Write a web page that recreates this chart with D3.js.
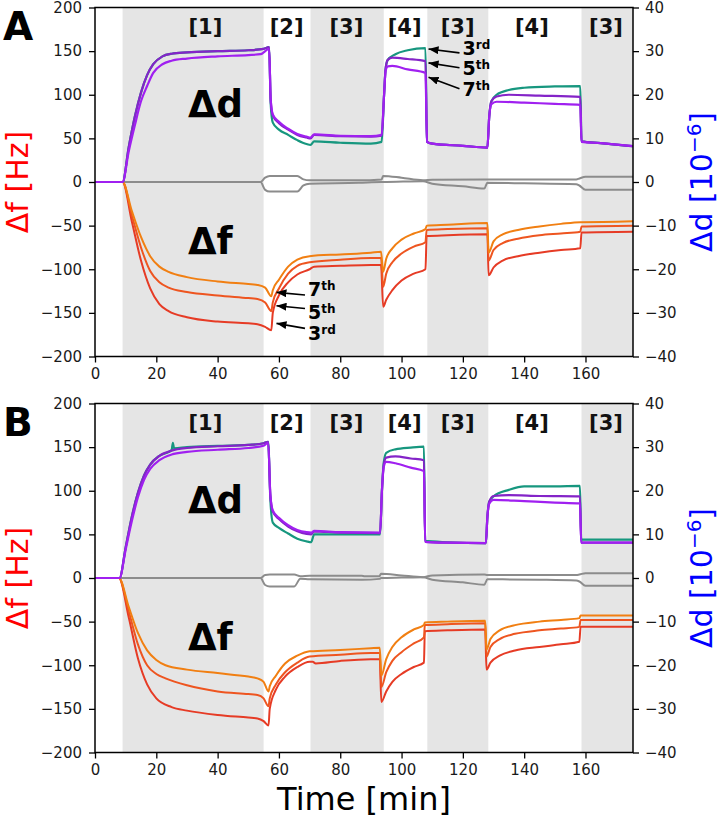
<!DOCTYPE html>
<html>
<head>
<meta charset="utf-8">
<script src="https://cdn.jsdelivr.net/npm/d3@7"></script>
<style>
    body { margin: 0; background: #fff; }
    svg { display: block; font-family: "DejaVu Sans", sans-serif; }
</style>
</head>
<body>
<script>
// ---- axes / phases ----
const timeTicks = [0, 20, 40, 60, 80, 100, 120, 140, 160];
const hzTicks = [-200, -150, -100, -50, 0, 50, 100, 150, 200];
const ddTicks = [-40, -30, -20, -10, 0, 10, 20, 30, 40];
const shadedBands = [[9, 55], [70.3, 94.2], [108.4, 128.3], [158.7, 175.5]];
const stepLabels = ["[1]", "[2]", "[3]", "[4]", "[3]", "[4]", "[3]"];
const stepCenters = [36, 62.5, 82, 101, 118.3, 142.5, 166.7];
const overtones = ["3", "5", "7"];
const overtoneSup = ["rd", "th", "th"];

// ---- panel A: dissipation [1e-6] (t, value) ----
const dA3 = [[0,0],[9,0],[11,8],[13,15],[15,20.5],[17,24.5],[19,27],[22,28.8],[25,29.4],[30,29.7],[40,30],[50,30.2],[55,30.5],[56.8,30.9],[57.3,18],[58,13.6],[60,12],[63,10.8],[66,9.6],[69,8.7],[70.3,8.5],[71.5,9.3],[80,9],[90,8.8],[93.5,9.2],[94.3,20],[94.8,26],[95.5,28],[98,29.3],[102,30.2],[107.8,30.7],[108.3,9.2],[110,8.8],[120,8.3],[128,7.9],[128.6,15],[129.3,18.5],[131,20],[135,21.1],[140,21.6],[150,21.9],[158.3,22],[158.7,9.3],[165,8.9],[175.5,8.2]];
const dA5 = [[0,0],[9,0],[11,8],[13,15],[15,20.5],[17,24.5],[19,27],[22,28.8],[25,29.4],[30,29.7],[40,30],[50,30.2],[55,30.5],[56.8,30.9],[57.3,19],[58,15.2],[60,13.5],[63,12],[66,10.8],[69,10.2],[70.3,10],[71.5,10.8],[80,10.5],[90,10.4],[93.5,10.6],[94.3,20],[94.8,26],[95.5,28],[97,28.5],[102,28.2],[107.8,27.7],[108.3,9.2],[110,8.8],[120,8.3],[128,7.9],[128.6,15],[129.3,18.5],[131,19.6],[135,20],[145,19.8],[158.3,19.5],[158.7,9.3],[165,8.9],[175.5,8.2]];
const dA7 = [[0,0],[9,0],[11,7],[13,13],[15,18.5],[17,22],[19,25],[22,27],[25,27.8],[30,28.3],[40,28.8],[50,29.1],[54,29.3],[56.8,30.5],[57.3,19],[58,15.5],[60,13.8],[63,12.2],[66,11],[69,10.4],[70.3,10.2],[71.5,10.9],[80,10.6],[90,10.5],[93.5,10.8],[94.3,20],[94.8,25.5],[95.5,26.5],[97,26.6],[102,25.8],[107.8,25],[108.3,9.2],[110,8.8],[120,8.3],[128,7.9],[128.6,15],[129.3,17.8],[131,18.4],[140,18.2],[150,17.9],[158.3,17.7],[158.7,9.2],[165,8.9],[175.5,8.2]];

// ---- panel A: frequency [Hz] ----
const fA3 = [[0,0],[9,0],[12,-45],[15,-90],[18,-122],[21,-140],[24,-148],[30,-155],[40,-160],[50,-162],[53,-163],[55.5,-166],[57.5,-170],[58,-150],[60,-130],[63,-115],[66,-106],[70,-100],[71.5,-97],[80,-96],[90,-95],[93.3,-95],[94,-143],[95,-135],[97,-124],[100,-113],[104,-105],[107.8,-100],[108.2,-62],[115,-61],[128,-60],[128.4,-107],[130,-98],[133,-90],[138,-85],[145,-81],[152,-78],[158.3,-76],[158.7,-58],[175.5,-57]];
const fA5 = [[0,0],[9,0],[12,-38],[15,-75],[18,-102],[21,-115],[24,-121],[30,-126],[40,-130],[50,-133],[53,-134],[55.5,-138],[57.5,-148],[58,-138],[60,-122],[63,-105],[66,-96],[70,-92],[80,-89],[90,-87],[93.3,-87],[94,-120],[95,-105],[97,-92],[100,-82],[104,-74],[107.8,-69],[108.2,-55],[115,-54],[128,-53],[128.4,-90],[130,-78],[133,-70],[138,-65],[145,-61],[152,-59],[158.3,-57],[158.7,-51],[175.5,-50]];
const fA7 = [[0,0],[9,0],[12,-33],[15,-63],[18,-85],[21,-97],[24,-103],[30,-109],[40,-114],[50,-117],[53,-118],[55.5,-121],[57.5,-131],[58,-124],[60,-112],[63,-97],[66,-89],[70,-85],[80,-83],[90,-81],[93.3,-80],[94,-103],[95,-88],[97,-76],[100,-66],[104,-59],[107.8,-54],[108.2,-50],[115,-49],[128,-47],[128.4,-81],[130,-68],[133,-60],[138,-55],[145,-51],[152,-48],[158.3,-46],[158.7,-46],[175.5,-45]];

// ---- panel A: gray traces [Hz] ----
const gA1 = [[0,0],[54,0],[55.5,5],[57,7],[66,7],[68,3],[70,2],[86,2],[93.5,3],[94,7],[100,5],[107,2],[110,2.5],[127,3],[128,3],[157,3],[158,4],[160,6],[175.5,6]];
const gA2 = [[0,0],[54,0],[55.5,-9],[57,-11],[66,-11],[68,-4],[70,-2],[86,-1],[93.5,0],[94,0],[107,1],[110,-2],[120,-5],[127,-7.5],[128,-1],[140,-1.5],[157,-2.5],[158,-4],[160,-9],[175.5,-9]];

// ---- panel B: dissipation [1e-6] ----
const dB3 = [[0,0],[8,0],[10,7],[12,14],[14,19.5],[16,23.5],[18,26],[21,28],[25,29.3],[25.4,31],[25.8,29.7],[30,30],[40,30.3],[50,30.5],[55,30.9],[56.5,31.2],[57.2,18],[58,12.7],[60,11.5],[63,10.2],[66,9],[69,8.4],[70.5,8.2],[71.5,10],[80,10],[93,10],[93.6,20],[94.2,26.5],[95,28.7],[98,29.5],[103,29.9],[107.3,30.1],[107.7,8.5],[115,8.2],[127.5,8],[128,14],[128.6,17.5],[130,18.7],[135,20.2],[140,21],[150,21],[158.2,21.1],[158.6,8.8],[175.5,8.8]];
const dB5 = [[0,0],[8,0],[10,7],[12,14],[14,19.5],[16,23.5],[18,26],[21,28],[25,29.2],[30,29.8],[40,30.2],[50,30.5],[55,30.9],[56.5,31.2],[57.2,19],[58,15.2],[60,13.5],[63,11.8],[66,10.7],[69,10.1],[70.5,10],[71.5,10.7],[80,10.4],[93,10.3],[93.6,20],[94.2,26],[95,27.6],[98,27.9],[103,27.4],[107.3,27],[107.7,8.3],[115,8.1],[127.5,8],[128,14],[128.6,17.5],[130,18.8],[135,19],[145,18.8],[158.2,18.7],[158.6,8.1],[175.5,8.1]];
const dB7 = [[0,0],[8,0],[10,6.5],[12,13],[14,18.5],[16,22.5],[18,25],[21,27],[25,28.3],[30,28.9],[40,29.4],[50,29.8],[55,30.3],[56.5,31],[57.2,19],[58,15.5],[60,13.8],[63,12.1],[66,11],[69,10.5],[70.5,10.4],[71.5,10.8],[80,10.5],[93,10.4],[93.6,20],[94.2,25.5],[95,26.6],[98,26.3],[103,25.3],[107.3,24.5],[107.7,8.3],[115,8.1],[127.5,8],[128,14],[128.6,17],[130,17.9],[140,17.6],[150,17.3],[158.2,17.1],[158.6,8.1],[175.5,8.1]];

// ---- panel B: frequency [Hz] ----
const fB3 = [[0,0],[7.8,0],[11,-45],[14,-92],[17,-122],[20,-138],[25,-148],[30,-152],[40,-157],[50,-160],[53,-161],[55,-164],[56.6,-169],[57,-150],[59,-128],[62,-113],[66,-102],[70,-96],[71,-96],[72,-98],[80,-95],[90,-93],[92.9,-93],[93.4,-142],[95,-130],[97,-119],[100,-110],[104,-102],[107.3,-97],[107.6,-61],[115,-60],[127.3,-59],[127.7,-105],[129,-97],[132,-89],[137,-83],[145,-79],[152,-76],[158,-73],[158.4,-56],[175.5,-56]];
const fB5 = [[0,0],[7.8,0],[11,-38],[14,-76],[17,-100],[20,-110],[23,-115],[30,-123],[40,-130],[50,-133],[53,-134],[55,-138],[56.6,-147],[57,-138],[59,-122],[62,-108],[66,-97],[70,-90],[80,-88],[90,-86],[92.9,-86],[93.4,-125],[95,-108],[97,-95],[100,-85],[104,-75],[107.3,-68],[107.6,-54],[115,-53],[127.3,-52],[127.7,-90],[129,-79],[132,-70],[137,-64],[145,-60],[152,-58],[158,-56],[158.4,-48],[175.5,-48]];
const fB7 = [[0,0],[7.8,0],[11,-33],[14,-63],[17,-83],[20,-94],[23,-100],[30,-105],[40,-109],[50,-113],[53,-115],[55,-119],[56.6,-130],[57,-124],[59,-112],[62,-98],[66,-89],[70,-84],[80,-82.5],[90,-80.5],[92.9,-80],[93.4,-112],[95,-93],[97,-79],[100,-68],[104,-59],[107.3,-54],[107.6,-51],[115,-50],[127.3,-49],[127.7,-82],[129,-70],[132,-60],[137,-54],[145,-50],[152,-48],[158,-46],[158.4,-43],[175.5,-43]];

// ---- panel B: gray traces [Hz] ----
const gB1 = [[0,0],[54,0],[55.5,3.5],[57,4],[65,4],[67,2],[70,2.5],[87,2.6],[88,2],[92.8,2],[93.3,5],[100,3],[107,1],[110,3],[127,4],[128,3.5],[157,3.5],[158,4],[160,5.5],[175.5,5.5]];
const gB2 = [[0,0],[54,0],[55.5,-8],[57,-9.6],[65,-9.6],[67,-1],[70,-1.5],[87,-2],[92.8,-1],[93.3,0],[100,0.5],[107,1],[110,-2],[120,-5],[127,-7.7],[128,-1.5],[145,-2],[157,-3],[158,-4],[160,-9],[175.5,-9]];

// annotation anchors (panel A only): [head t, head value, tail t, tail value, text baseline value]
const dNotes = [[108.8, 30.5, 118.9, 29.6, 29.2], [108.8, 27.3, 118.9, 26.2, 24.6], [108.8, 24.0, 118.9, 21.4, 19.8]];
const fNotes = [[59.2, -162, 68.5, -167.8, -181], [59.2, -141.9, 68.5, -144.9, -156.5], [59.2, -126.5, 68.5, -129.6, -131]];

(function() {
    'use strict';

    let width = 718;
    let height = 817;
    let left = 95;
    let right = 633;
    let plotH = 349;

    let dColors = ["#17977f", "#8424c8", "#a020f0"];
    let fColors = ["#e63b25", "#ee5520", "#f17f12"];
    let grayColor = "#8c8c8c";

    let svg = d3.select("body").append("svg")
        .attr("width", width)
        .attr("height", height);

    let defs = svg.append("defs");
    defs.append("marker")
        .attr("id", "arrowhead")
        .attr("markerUnits", "userSpaceOnUse")
        .attr("markerWidth", 10)
        .attr("markerHeight", 8)
        .attr("refX", 10)
        .attr("refY", 4)
        .attr("orient", "auto")
        .append("path")
        .attr("d", "M0,0L10,4L0,8Z")
        .attr("fill", "#000");

    let x = d3.scaleLinear().domain([0, 175.5]).range([left, right]);

    function styleAxis(g) {
        g.attr("font-size", 15).attr("font-family", "DejaVu Sans, sans-serif");
        g.select(".domain").remove();
        g.selectAll(".tick line").attr("stroke", "#000").attr("stroke-width", 1.3);
        g.selectAll(".tick text").attr("fill", "#1a1a1a");
    }

    function drawPanel(top, id, letter, dSeries, fSeries, gSeries, withNotes) {
        let yF = d3.scaleLinear().domain([-200, 200]).range([top + plotH, top]);
        let yD = d3.scaleLinear().domain([-40, 40]).range([top + plotH, top]);
        let g = svg.append("g");

        defs.append("clipPath").attr("id", "clip" + id)
            .append("rect")
            .attr("x", left).attr("y", top)
            .attr("width", right - left).attr("height", plotH);

        // shaded steps
        g.append("g").selectAll("rect")
            .data(shadedBands)
            .enter()
            .append("rect")
            .attr("x", function(d) { return x(d[0]); })
            .attr("width", function(d) { return x(d[1]) - x(d[0]); })
            .attr("y", top)
            .attr("height", plotH)
            .attr("fill", "#e5e5e5");

        // step labels
        g.append("g").selectAll("text")
            .data(stepLabels)
            .enter()
            .append("text")
            .attr("x", function(d, i) { return x(stepCenters[i]); })
            .attr("y", yF(170))
            .attr("text-anchor", "middle")
            .attr("font-size", 21)
            .attr("font-weight", "bold")
            .attr("fill", "#111")
            .text(function(d) { return d; });

        let lines = g.append("g").attr("clip-path", "url(#clip" + id + ")");

        let lineF = d3.line()
            .x(function(d) { return x(d[0]); })
            .y(function(d) { return yF(d[1]); })
            .curve(d3.curveMonotoneX);
        let lineD = d3.line()
            .x(function(d) { return x(d[0]); })
            .y(function(d) { return yD(d[1]); })
            .curve(d3.curveMonotoneX);

        lines.selectAll(".gray")
            .data(gSeries)
            .enter()
            .append("path")
            .attr("class", "gray")
            .attr("d", lineF)
            .attr("fill", "none")
            .attr("stroke", grayColor)
            .attr("stroke-width", 2);

        lines.selectAll(".df")
            .data(fSeries)
            .enter()
            .append("path")
            .attr("class", "df")
            .attr("d", lineF)
            .attr("fill", "none")
            .attr("stroke", function(d, i) { return fColors[i]; })
            .attr("stroke-width", 2);

        lines.selectAll(".dd")
            .data(dSeries)
            .enter()
            .append("path")
            .attr("class", "dd")
            .attr("d", lineD)
            .attr("fill", "none")
            .attr("stroke", function(d, i) { return dColors[i]; })
            .attr("stroke-width", 2.2);

        // big labels
        g.append("text")
            .attr("x", x(30.3)).attr("y", yF(75))
            .attr("font-size", 37).attr("font-weight", "bold")
            .text("Δd");
        g.append("text")
            .attr("x", x(30.3)).attr("y", yF(-83))
            .attr("font-size", 37).attr("font-weight", "bold")
            .text("Δf");

        // frame
        g.append("rect")
            .attr("x", left).attr("y", top)
            .attr("width", right - left).attr("height", plotH)
            .attr("fill", "none")
            .attr("stroke", "#000")
            .attr("stroke-width", 1.5);

        // axes
        g.append("g")
            .attr("transform", "translate(0," + (top + plotH) + ")")
            .call(d3.axisBottom(x).tickValues(timeTicks).tickSize(6).tickSizeOuter(0).tickPadding(6))
            .call(styleAxis);
        g.append("g")
            .attr("transform", "translate(" + left + ",0)")
            .call(d3.axisLeft(yF).tickValues(hzTicks).tickSize(6).tickSizeOuter(0).tickPadding(7))
            .call(styleAxis);
        g.append("g")
            .attr("transform", "translate(" + right + ",0)")
            .call(d3.axisRight(yD).tickValues(ddTicks).tickSize(6).tickSizeOuter(0).tickPadding(6))
            .call(styleAxis);

        // axis titles
        let midY = top + plotH / 2;
        g.append("text")
            .attr("transform", "translate(28," + midY + ")rotate(-90)")
            .attr("text-anchor", "middle")
            .attr("font-size", 30)
            .attr("fill", "#ff0000")
            .text("Δf [Hz]");
        let rt = g.append("text")
            .attr("transform", "translate(712," + midY + ")rotate(-90)")
            .attr("text-anchor", "middle")
            .attr("font-size", 30)
            .attr("fill", "#0000ff");
        rt.append("tspan").text("Δd [10");
        rt.append("tspan").attr("font-size", 20).attr("dy", -11).text("−6");
        rt.append("tspan").attr("dy", 11).text("]");

        // panel letter
        svg.append("text")
            .attr("x", 3).attr("y", top + 32.5)
            .attr("font-size", 39).attr("font-weight", "bold")
            .text(letter);

        if (withNotes) {
            drawNotes(g, dNotes, yD);
            drawNotes(g, fNotes, yF);
        }
    }

    function drawNotes(g, notes, y) {
        notes.forEach(function(n, i) {
            g.append("line")
                .attr("x1", x(n[2])).attr("y1", y(n[3]))
                .attr("x2", x(n[0])).attr("y2", y(n[1]))
                .attr("stroke", "#000")
                .attr("stroke-width", 1.6)
                .attr("marker-end", "url(#arrowhead)");
            let t = g.append("text")
                .attr("x", x(n[2]) + 3).attr("y", y(n[4]))
                .attr("font-size", 19).attr("font-weight", "bold");
            t.append("tspan").text(overtones[i]);
            t.append("tspan").attr("font-size", 12).attr("dy", -6).text(overtoneSup[i]);
        });
    }

    drawPanel(7.5, "A", "A", [dA3, dA5, dA7], [fA3, fA5, fA7], [gA1, gA2], true);
    drawPanel(403.5, "B", "B", [dB3, dB5, dB7], [fB3, fB5, fB7], [gB1, gB2], false);

    svg.append("text")
        .attr("x", (left + right) / 2)
        .attr("y", 810)
        .attr("text-anchor", "middle")
        .attr("font-size", 32)
        .text("Time [min]");
})();
</script>
</body>
</html>
